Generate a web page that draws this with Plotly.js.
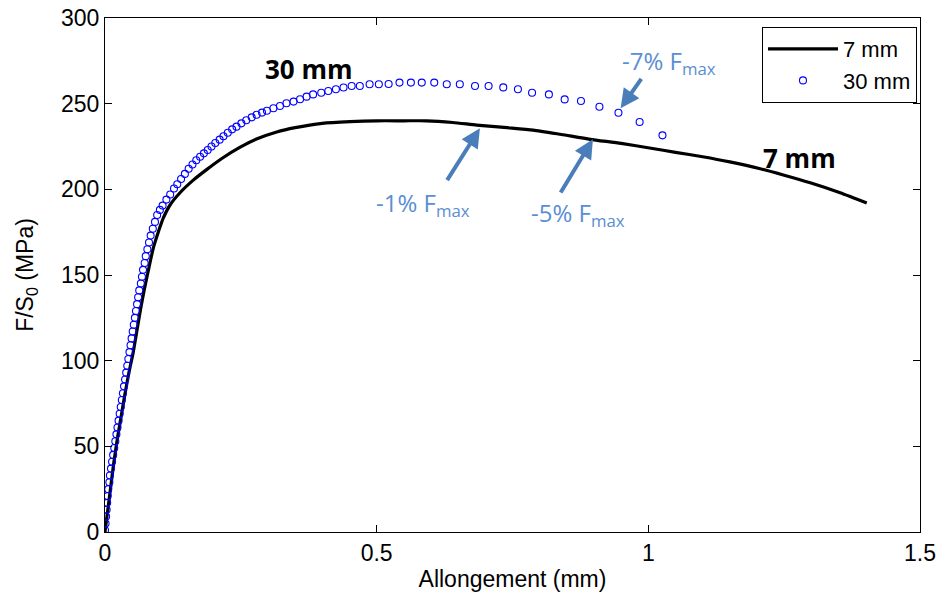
<!DOCTYPE html>
<html>
<head>
<meta charset="utf-8">
<script src="https://cdn.plot.ly/plotly-3.0.1.min.js"></script>
<style>html,body{margin:0;padding:0;background:#fff}#chart{width:942px;height:601px}</style>
</head>
<body>
<div id="chart"></div>
<script>
// 7 mm specimen (solid black line)
const x7 = [0, 0.004, 0.010, 0.016, 0.023, 0.030, 0.037, 0.044, 0.052, 0.059, 0.066, 0.072, 0.078, 0.084, 0.090, 0.098, 0.107, 0.120, 0.138, 0.163, 0.187, 0.215, 0.248, 0.280, 0.316, 0.350, 0.400, 0.451, 0.500, 0.550, 0.592, 0.640, 0.684, 0.740, 0.788, 0.840, 0.893, 0.950, 1.005, 1.050, 1.100, 1.150, 1.206, 1.250, 1.298, 1.353, 1.402];
const y7 = [0, 10, 25, 40, 55, 68, 81, 93, 105, 118, 131, 141, 150, 159, 167, 175, 183, 191, 198, 205.5, 211.5, 218, 224.5, 229.5, 233.5, 236, 238.5, 239.5, 240, 240, 240, 239, 237.5, 236, 234.6, 232, 229.2, 226.8, 224, 221.6, 219, 216, 212, 208.2, 203.8, 198, 192];

// 30 mm specimen (open blue circles)
const x30 = [0.000, 0.001, 0.002, 0.003, 0.004, 0.005, 0.006, 0.008, 0.009, 0.011, 0.013, 0.015, 0.017, 0.019, 0.021, 0.023, 0.025, 0.027, 0.029, 0.031, 0.033, 0.035, 0.037, 0.039, 0.041, 0.043, 0.045, 0.047, 0.049, 0.051, 0.053, 0.055, 0.057, 0.059, 0.061, 0.063, 0.066, 0.068, 0.070, 0.073, 0.075, 0.078, 0.081, 0.084, 0.088, 0.092, 0.096, 0.101, 0.106, 0.113, 0.120, 0.127, 0.133, 0.140, 0.147, 0.154, 0.161, 0.168, 0.175, 0.182, 0.189, 0.196, 0.203, 0.211, 0.218, 0.226, 0.234, 0.242, 0.251, 0.260, 0.270, 0.279, 0.289, 0.298, 0.310, 0.322, 0.334, 0.347, 0.359, 0.371, 0.383, 0.398, 0.411, 0.425, 0.439, 0.454, 0.469, 0.487, 0.504, 0.522, 0.542, 0.563, 0.583, 0.606, 0.629, 0.653, 0.681, 0.706, 0.733, 0.760, 0.786, 0.817, 0.846, 0.876, 0.910, 0.945, 0.984, 1.026];
const y30 = [1, 5, 9, 13, 17, 21, 25, 29, 33, 37, 41, 45, 49, 53, 57, 61, 65, 69, 73, 77, 81, 85, 89, 93, 97, 101, 105, 109, 113, 117, 121, 125, 129, 133, 137, 141, 145, 149, 153, 157, 161, 165, 169, 173, 177, 181, 185, 188, 190.5, 194, 197, 200.5, 203, 206, 209, 212, 214.5, 217, 219, 221, 223, 225, 227, 229, 231, 233, 235, 236.6, 238.5, 240.3, 242, 243.5, 244.8, 245.9, 247.3, 248.6, 250.2, 251.2, 252.6, 254.1, 255.4, 256.4, 257.4, 258.4, 259.4, 260.3, 260.3, 261.3, 261.3, 261.5, 262.3, 262.3, 262.3, 262.3, 261.3, 261.3, 260.3, 260.3, 259.5, 258.4, 256.4, 255.4, 252.5, 251.6, 248.2, 244.7, 239.3, 231.5];

const xTicks = [0, 0.5, 1, 1.5];
const xTickText = ['0', '0.5', '1', '1.5'];
const yTicks = [0, 50, 100, 150, 200, 250, 300];

const seriesNames = ['7 mm', '30 mm'];
const curveLabels = ['7 mm', '30 mm'];
const markLabels = ['-1% F<sub>max</sub>', '-5% F<sub>max</sub>', '-7% F<sub>max</sub>'];

const labelBlue = '#5A8ED3';
const arrowBlue = '#4A7EBB';

const traces = [
  {x: x7, y: y7, type: 'scatter', mode: 'lines', name: seriesNames[0],
   line: {color: '#000000', width: 3.2, shape: 'spline', smoothing: 0.6}},
  {x: x30, y: y30, type: 'scatter', mode: 'markers', name: seriesNames[1],
   marker: {symbol: 'circle-open', color: '#0000FF', size: 7, line: {width: 1.1, color: '#0000FF'}}}
];

function arrow(tipX, tipY, tailX, tailY) {
  return {x: tipX, y: tipY, ax: tailX, ay: tailY, xref: 'x', yref: 'y', axref: 'x', ayref: 'y',
    text: '', showarrow: true, arrowhead: 2, arrowsize: 0.95, arrowwidth: 4, arrowcolor: arrowBlue, standoff: 0, startstandoff: 0};
}
function label(txt, x, y, anchor) {
  return {x: x, y: y, xref: 'x', yref: 'y', text: txt, showarrow: false, xanchor: anchor, yanchor: 'middle',
    font: {family: '"Open Sans", sans-serif', size: 24, color: labelBlue}};
}

const annotations = [
  {x: 0.375, y: 270, xref: 'x', yref: 'y', text: '<b>' + curveLabels[1] + '</b>', showarrow: false,
   font: {family: '"Open Sans", sans-serif', size: 26, color: '#000'}},
  {x: 1.279, y: 218.5, xref: 'x', yref: 'y', text: '<b>' + curveLabels[0] + '</b>', showarrow: false,
   font: {family: '"Open Sans", sans-serif', size: 26, color: '#000'}},
  arrow(0.690, 235.6, 0.628, 204.5),
  arrow(0.898, 229.2, 0.837, 197.3),
  arrow(0.949, 247.3, 0.989, 265.4),
  label(markLabels[0], 0.495, 191.5, 'left'),
  label(markLabels[1], 0.780, 185.5, 'left'),
  label(markLabels[2], 0.948, 274.5, 'left')
];

const axisFont = {family: '"Liberation Sans", Arial, sans-serif', size: 23, color: '#000'};
const legendFont = {family: '"Liberation Sans", Arial, sans-serif', size: 22, color: '#000'};

const layout = {
  width: 942, height: 601,
  margin: {l: 105, r: 22, t: 18, b: 69},
  paper_bgcolor: '#fff', plot_bgcolor: '#fff',
  showlegend: true,
  legend: {x: 0.9963, y: 0.9825, xanchor: 'right', yanchor: 'top', bgcolor: '#fff',
    bordercolor: '#000', borderwidth: 1, font: legendFont, tracegroupgap: 0, itemwidth: 70},
  xaxis: {range: [0, 1.5], tickvals: xTicks, ticktext: xTickText, ticks: 'inside', ticklen: 7,
    tickcolor: '#000', showline: true, linecolor: '#000', linewidth: 1.3, mirror: 'ticks',
    showgrid: false, zeroline: false, tickfont: axisFont,
    title: {text: 'Allongement (mm)', font: axisFont, standoff: 6}},
  yaxis: {range: [0, 300], tickvals: yTicks, ticks: 'inside', ticklen: 7,
    tickcolor: '#000', showline: true, linecolor: '#000', linewidth: 1.3, mirror: 'ticks',
    showgrid: false, zeroline: false, tickfont: axisFont,
    title: {text: 'F/S<sub>0</sub> (MPa)', font: axisFont, standoff: 20}},
  annotations: annotations
};

Plotly.newPlot('chart', traces, layout, {displayModeBar: false, responsive: false});
</script>
</body>
</html>
